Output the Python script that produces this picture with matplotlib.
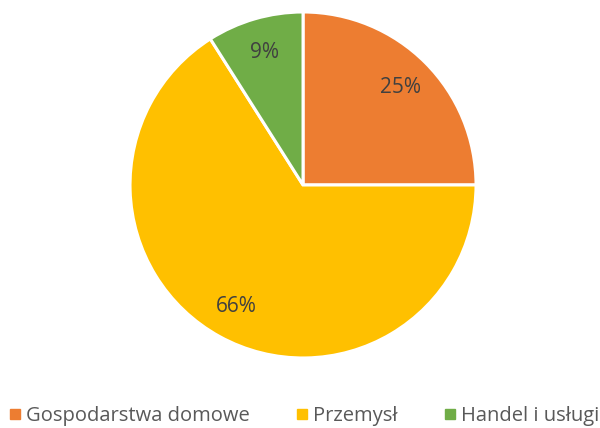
import matplotlib
matplotlib.use("Agg")
import matplotlib.pyplot as plt
from matplotlib.lines import Line2D

labels = ["Gospodarstwa domowe", "Przemysł", "Handel i usługi"]
values = [25, 66, 9]
colors = ["#ED7D31", "#FFC000", "#70AD47"]

plt.rcParams["font.family"] = ["Open Sans", "DejaVu Sans"]

fig = plt.figure(figsize=(6, 4.28), dpi=100)
ax = fig.add_axes([0.2167, 0.1636, 0.5767, 0.8084])
wedges, texts, autotexts = ax.pie(
    values, colors=colors, startangle=90, counterclock=False,
    autopct="%1.0f%%", pctdistance=0.8,
    wedgeprops=dict(edgecolor="white", linewidth=2.2),
    textprops=dict(color="#404040", fontsize=15))
ax.set_xlim(-1, 1); ax.set_ylim(-1, 1)
ax.set_aspect("equal")

handles = [Line2D([0], [0], marker="s", ls="", color=c, markersize=7) for c in colors]
fig.legend(handles, labels, loc="center", bbox_to_anchor=(0.505, 0.028), ncol=3,
           frameon=False, fontsize=14.5, labelcolor="#595959",
           handletextpad=0.15, columnspacing=2.2, handlelength=0.8)

fig.savefig("out.png", dpi=100)
